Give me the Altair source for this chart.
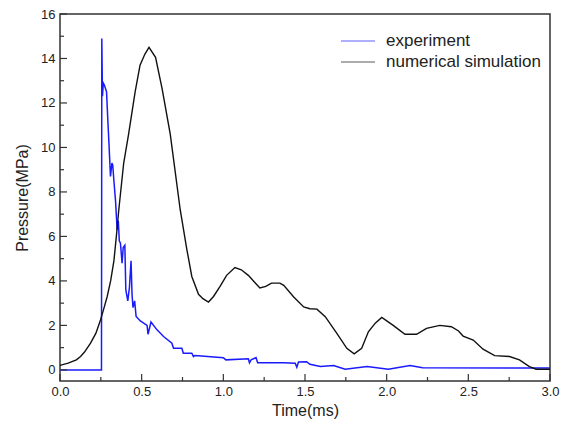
import altair as alt
import pandas as pd

# ---- data ----
exp_t = [0.0, 0.254, 0.256, 0.26, 0.265, 0.272, 0.285, 0.293, 0.299, 0.309, 0.318, 0.323,
         0.33, 0.34, 0.35, 0.357, 0.363, 0.37, 0.38, 0.387, 0.397, 0.403, 0.415, 0.425,
         0.435, 0.441, 0.447, 0.457, 0.466, 0.492, 0.533, 0.539, 0.557, 0.594, 0.634,
         0.685, 0.695, 0.746, 0.755, 0.807, 0.817, 0.827, 1.0, 1.016, 1.153, 1.16, 1.17,
         1.2, 1.21, 1.37, 1.44, 1.45, 1.46, 1.51, 1.53, 1.594, 1.675, 1.746, 1.88, 2.01,
         2.143, 2.22, 3.0]
exp_p = [0.0, 0.0, 14.9, 12.3, 12.9, 12.8, 12.5, 11.2, 10.3, 8.7, 9.3, 9.2,
         8.5, 7.6, 6.3, 6.7, 5.8, 5.7, 4.8, 5.5, 5.6, 3.6, 3.1, 3.7,
         4.9, 3.4, 2.8, 3.1, 2.4, 2.2, 2.0, 1.6, 2.15, 1.8, 1.5,
         1.2, 0.97, 0.97, 0.75, 0.75, 0.6, 0.65, 0.55, 0.45, 0.5, 0.32, 0.45,
         0.55, 0.32, 0.32, 0.3, 0.12, 0.35, 0.37, 0.25, 0.15, 0.2, 0.03, 0.15, 0.03,
         0.2, 0.1, 0.08]

sim_t = [0.0, 0.05, 0.1, 0.126, 0.15, 0.187, 0.22, 0.248, 0.27, 0.289, 0.31, 0.33,
         0.345, 0.36, 0.39, 0.42, 0.46, 0.49, 0.52, 0.545, 0.585, 0.625, 0.675, 0.736,
         0.777, 0.807, 0.848, 0.875, 0.909, 0.94, 0.98, 1.02, 1.071, 1.11, 1.153, 1.19,
         1.224, 1.26, 1.295, 1.346, 1.37, 1.431, 1.492, 1.53, 1.573, 1.624, 1.695, 1.756,
         1.801, 1.847, 1.888, 1.93, 1.97, 2.04, 2.112, 2.183, 2.244, 2.325, 2.396, 2.44,
         2.468, 2.53, 2.59, 2.661, 2.752, 2.813, 2.874, 2.915, 3.0]
sim_p = [0.2, 0.3, 0.45, 0.6, 0.8, 1.2, 1.65, 2.24, 2.8, 3.3, 4.0, 4.9,
         6.0, 7.2, 9.3, 10.6, 12.5, 13.7, 14.2, 14.5, 14.05, 12.65, 10.6, 7.2,
         5.4, 4.2, 3.4, 3.2, 3.05, 3.3, 3.75, 4.25, 4.6, 4.5, 4.25, 3.95,
         3.68, 3.75, 3.9, 3.9, 3.8, 3.28, 2.83, 2.75, 2.73, 2.39, 1.64, 0.97,
         0.72, 0.97, 1.71, 2.1, 2.36, 2.0, 1.6, 1.6, 1.87, 2.0, 1.94, 1.75,
         1.52, 1.34, 0.93, 0.64, 0.6, 0.45, 0.15, 0.03, 0.03]

series_names = ["experiment", "numerical simulation"]
series_colors = ["#1a1aff", "#111111"]

x_major = [0.0, 0.5, 1.0, 1.5, 2.0, 2.5, 3.0]
x_minor = [0.25, 0.75, 1.25, 1.75, 2.25, 2.75]
y_major = [0, 2, 4, 6, 8, 10, 12, 14, 16]
y_minor = [1, 3, 5, 7, 9, 11, 13, 15]

W, H = 490, 367
XDOM = [0, 3]
YDOM = [-0.5, 16]
FONT = "Liberation Sans"

xs = alt.Scale(domain=XDOM, nice=False, zero=False)
ys = alt.Scale(domain=YDOM, nice=False, zero=False)

exp_df = pd.DataFrame({"t": exp_t, "p": exp_p, "i": list(range(len(exp_t)))})
sim_df = pd.DataFrame({"t": sim_t, "p": sim_p, "i": list(range(len(sim_t)))})

x_axis = alt.Axis(values=x_major, format=".1f", title="Time(ms)", ticks=False, tickSize=0,
                  labelPadding=4, titlePadding=4, domain=False, grid=False, labelFlush=False,
                  labelFontSize=13, titleFontSize=16, labelFont=FONT, titleFont=FONT,
                  titleFontWeight="normal", labelColor="#222", titleColor="#222")
y_axis = alt.Axis(values=y_major, format="d", title="Pressure(MPa)", ticks=False, tickSize=0,
                  labelPadding=5, titlePadding=10, domain=False, grid=False, labelFlush=False,
                  labelFontSize=13, titleFontSize=16, labelFont=FONT, titleFont=FONT,
                  titleFontWeight="normal", labelColor="#222", titleColor="#222")

exp_line = alt.Chart(exp_df).mark_line(color=series_colors[0], strokeWidth=1.5).encode(
    x=alt.X("t:Q", scale=xs, axis=x_axis),
    y=alt.Y("p:Q", scale=ys, axis=y_axis),
    order="i:Q",
)

sim_line = alt.Chart(sim_df).mark_line(color=series_colors[1], strokeWidth=1.4).encode(
    x=alt.X("t:Q", scale=xs, axis=x_axis),
    y=alt.Y("p:Q", scale=ys, axis=y_axis),
    order="i:Q",
)

# inward ticks
def xticks(vals, length):
    return alt.Chart(pd.DataFrame({"v": vals})).mark_rule(color="#333", strokeWidth=1.2).encode(
        x=alt.X("v:Q", scale=xs, axis=x_axis),
        y=alt.value(H), y2=alt.value(H - length))

def yticks(vals, length):
    return alt.Chart(pd.DataFrame({"v": vals})).mark_rule(color="#333", strokeWidth=1.2).encode(
        y=alt.Y("v:Q", scale=ys, axis=y_axis),
        x=alt.value(0), x2=alt.value(length))

layers = [exp_line, sim_line,
          xticks(x_major, 7), xticks(x_minor, 4),
          yticks(y_major, 7), yticks(y_minor, 4)]

# legend
leg_y = [27, 48]
for name, col, yy in zip(series_names, series_colors, leg_y):
    base = alt.Chart(pd.DataFrame({"name": [name]}))
    layers.append(base.mark_rule(color=col, strokeWidth=1, opacity=0.7).encode(
        x=alt.value(281), x2=alt.value(315), y=alt.value(yy)))
    layers.append(base.mark_text(align="left", baseline="middle", font=FONT, fontSize=17,
                                 color="#222").encode(
        x=alt.value(326), y=alt.value(yy), text="name:N"))

chart = alt.layer(*layers).properties(
    width=W, height=H,
    autosize=alt.AutoSizeParams(type="none"),
    padding={"left": 52, "top": 6, "right": 10, "bottom": 38},
).configure_view(stroke="#333", strokeWidth=1.5)

chart.save("out.html", embed_options={"renderer": "svg", "actions": False})
